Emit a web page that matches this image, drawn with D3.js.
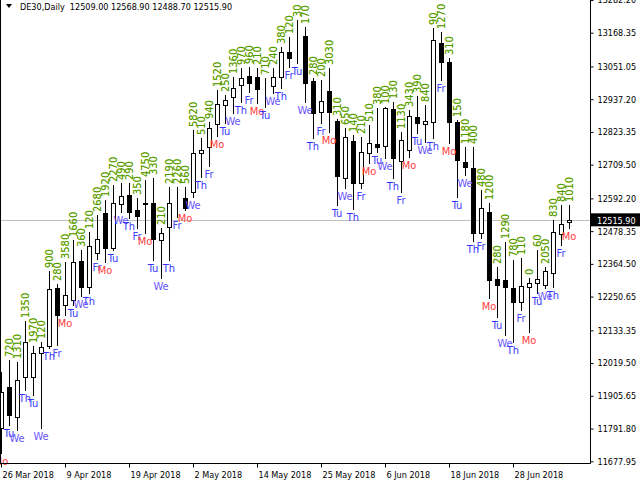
<!DOCTYPE html>
<html><head><meta charset="utf-8">
<script src="https://cdn.jsdelivr.net/npm/d3@7"></script>
<style>
html,body{margin:0;padding:0;background:#fff;overflow:hidden}
svg{display:block}
text{font-family:"DejaVu Sans Condensed","DejaVu Sans",sans-serif}
</style></head><body>
<svg id="c" width="640" height="480"></svg>
<script>
// ---- data ----
const symbol = "DE30,Daily";
const openV  = [11793.7,11936.3,11832.0,11971.1,11971.1,12054.5,12078.9,12280.6,12221.5,12238.8,12374.5,12284.1,12402.3,12541.4,12419.7,12572.7,12604.0,12551.8,12576.2,12576.2,12447.5,12492.7,12584.9,12593.6,12614.4,12750.0,12770.9,12850.9,12917.0,12944.8,12986.5,13017.8,13014.3,12979.6,12983.0,13014.3,13101.3,13158.7,13156.9,13000.4,12892.6,12965.6,12861.3,12663.1,12791.8,12645.7,12750.0,12781.3,12774.4,12903.1,12722.2,12760.5,12875.2,12850.9,12857.8,13132.6,13066.5,12857.8,12718.7,12697.9,12471.8,12544.9,12311.9,12308.4,12280.6,12231.9,12284.1,12298.0,12291.0,12332.7,12468.4,12509.0];
const highV  = [11988.5,12030.2,12023.2,12165.8,12078.9,12092.8,12339.7,12294.5,12371.0,12447.5,12412.7,12475.3,12534.4,12586.6,12638.8,12645.7,12645.7,12593.6,12656.1,12663.1,12489.2,12631.8,12631.8,12631.8,12830.0,12802.2,12857.8,12969.1,12951.7,13014.3,13045.6,13049.1,13045.6,13010.9,13045.6,13118.7,13153.4,13212.6,13188.2,13010.9,13003.9,13045.6,12868.3,12837.0,12812.6,12805.7,12847.4,12906.5,12910.0,12927.4,12823.1,12899.6,12948.3,12917.0,13184.7,13170.8,13080.4,12864.8,12770.9,12770.9,12621.4,12576.2,12353.6,12440.5,12377.9,12384.9,12315.4,12412.7,12353.6,12517.0,12569.2,12568.9];
const lowV   = [11706.8,11804.2,11786.8,11925.9,11908.5,11793.7,12071.9,12082.4,12186.7,12221.5,12252.8,12263.2,12381.4,12371.0,12412.7,12544.9,12524.0,12489.2,12471.8,12377.9,12315.4,12377.9,12527.5,12551.8,12597.0,12666.6,12704.8,12809.2,12854.4,12889.1,12927.4,12962.2,12923.9,12910.0,12958.7,12976.1,13049.1,13063.0,12927.4,12802.2,12854.4,12823.1,12569.2,12628.3,12555.3,12628.3,12715.3,12753.5,12732.7,12663.1,12614.4,12736.1,12819.6,12788.3,12802.2,13003.9,12784.8,12597.0,12673.5,12444.0,12454.5,12245.8,12179.7,12117.1,12092.8,12204.1,12127.6,12263.2,12280.6,12284.1,12430.1,12488.7];
const closeV = [11918.9,11838.9,11960.6,12092.8,12054.5,12075.4,12277.1,12186.7,12256.2,12371.0,12284.1,12426.6,12451.0,12419.7,12576.2,12600.5,12544.9,12531.0,12574.4,12451.0,12471.8,12576.2,12586.6,12558.8,12750.0,12760.5,12837.0,12920.4,12934.4,12976.1,13010.9,12993.5,12972.6,12977.8,13014.3,13101.3,13080.4,13160.4,12993.5,12889.1,12930.9,12892.6,12670.1,12805.7,12645.7,12753.5,12784.8,12770.9,12906.5,12732.7,12795.2,12878.7,12854.4,12861.3,13143.0,13066.5,12857.8,12725.7,12701.4,12471.8,12558.8,12308.4,12291.0,12284.1,12231.9,12287.5,12298.0,12311.9,12339.7,12475.3,12503.1,12515.9];
const dayNames = ["Mo","Tu","We","Th","Tu","We","Th","Fr","Mo","Tu","We","Th","Fr","Mo","Tu","We","Th","Fr","Mo","Tu","We","Th","Fr","Mo","We","Th","Fr","Mo","Tu","We","Th","Fr","Mo","Tu","We","Th","Fr","Tu","We","Th","Fr","Mo","Tu","We","Th","Fr","Mo","Tu","We","Th","Fr","Mo","Tu","We","Th","Fr","Mo","Tu","We","Th","Fr","Mo","Tu","We","Th","Fr","Mo","Tu","We","Th","Fr","Mo"];
const barNumbers = ["","720","1310","1350","1970","120","900","280","3580","1660","360","120","2680","1920","2270","490","290","350","4750","330","210","2190","2260","560","5820","510","940","1520","250","1360","970","960","210","710","240","380","120","30","170","280","200","3030","310","650","140","210","510","380","100","130","1130","3430","390","840","90","1270","310","150","1180","400","480","1200","280","1290","780","110","0","60","2050","830","840","1010"];
const dateTickIdx = [0,8,16,24,32,40,48,56,64];
const dateLabels = ["26 Mar 2018","9 Apr 2018","19 Apr 2018","2 May 2018","14 May 2018","25 May 2018","6 Jun 2018","18 Jun 2018","28 Jun 2018"];
const priceTicks = [13282.20,13168.35,13051.05,12937.20,12823.35,12709.50,12592.20,12478.35,12364.50,12250.65,12133.35,12019.50,11905.65,11791.80,11677.95];
const lastPrice = 12515.90;

const bars = openV.map((o,i)=>({i,o,h:highV[i],l:lowV[i],c:closeV[i],day:dayNames[i],num:barNumbers[i]}));

const svg = d3.select("#c");
const W = 640, H = 480, plotR = 590, plotB = 463;
const x = d3.scaleLinear().domain([0,71]).range([1,569]);
const y = d3.scaleLinear().domain([11677.95,13168.35]).range([461.3,32.7]);

// current price line
svg.append("line").attr("x1",0).attr("x2",plotR).attr("y1",Math.round(y(lastPrice))+0.5).attr("y2",Math.round(y(lastPrice))+0.5)
  .attr("stroke","#c0c0c0").attr("stroke-width",1);

// candles
const g = svg.append("g").attr("shape-rendering","crispEdges");
g.selectAll("line.wick").data(bars).join("line").attr("class","wick")
  .attr("x1",d=>Math.round(x(d.i))+0.5).attr("x2",d=>Math.round(x(d.i))+0.5)
  .attr("y1",d=>Math.round(y(d.h))).attr("y2",d=>Math.round(y(d.l))+1)
  .attr("stroke","#000");
g.selectAll("rect.body").data(bars).join("rect").attr("class","body")
  .attr("x",d=>Math.round(x(d.i))-2+0.5)
  .attr("y",d=>Math.round(y(Math.max(d.o,d.c)))+0.5)
  .attr("width",4)
  .attr("height",d=>Math.max(0,Math.round(y(Math.min(d.o,d.c)))-Math.round(y(Math.max(d.o,d.c)))))
  .attr("fill",d=>d.c>=d.o?"#fff":"#000").attr("stroke","#000");

// day labels below lows
const dayColor = {Mo:"#ff3c3c",Tu:"#3535ff",We:"#6a55ff",Th:"#3535ff",Fr:"#4a45ff"};
svg.selectAll("text.day").data(bars).join("text").attr("class","day")
  .attr("x",d=>x(d.i)).attr("y",d=>y(d.l)+12)
  .attr("text-anchor","middle").attr("font-size","11px")
  .attr("fill",d=>dayColor[d.day]).text(d=>d.day);

// numbers above highs (vertical)
const numG = svg.append("g").attr("font-family","'DejaVu Sans Mono',monospace").attr("font-size","11px");
numG.selectAll("text.n1").data(bars).join("text").attr("class","n1")
  .attr("transform",d=>`translate(${x(d.i)+4},${y(d.h)-3}) rotate(-90)`)
  .attr("fill","#b0b000").text(d=>d.num);
numG.selectAll("text.n2").data(bars).join("text").attr("class","n2")
  .attr("transform",d=>`translate(${x(d.i)+4},${y(d.h)-3}) rotate(-90)`)
  .attr("fill","#009000").attr("fill-opacity",0.6).text(d=>d.num);

// axes
const ya = svg.append("g").attr("transform",`translate(${plotR+0.5},0)`)
  .call(d3.axisRight(y).tickValues(priceTicks).tickFormat(d3.format(".2f")).tickSize(3).tickPadding(4));
ya.select(".domain").attr("d",`M0,0V${plotB+0.5}`);
ya.selectAll("text").attr("font-size","9px").attr("font-family","'DejaVu Sans Condensed',sans-serif").attr("fill","#000");

const xa = svg.append("g").attr("transform",`translate(0,${plotB+0.5})`)
  .call(d3.axisBottom(x).tickValues(dateTickIdx).tickFormat((d,i)=>dateLabels[i]).tickSize(4).tickPadding(4));
xa.select(".domain").attr("d",`M0,0H${plotR+0.5}`);
xa.selectAll("text").attr("text-anchor","start").attr("dx","1").attr("font-size","9px")
  .attr("font-family","'DejaVu Sans Condensed',sans-serif").attr("fill","#000");

// left frame
svg.append("line").attr("x1",0.5).attr("x2",0.5).attr("y1",0).attr("y2",plotB).attr("stroke","#000");

// current price box
const ly = y(lastPrice);
svg.append("rect").attr("x",plotR+1).attr("y",ly-7).attr("width",W-plotR-1).attr("height",13).attr("fill","#000");
svg.append("text").attr("x",plotR+7).attr("y",ly+3.5).attr("font-size","9px").attr("fill","#fff").text(d3.format(".2f")(lastPrice));

// header
svg.append("path").attr("d","M6,4 L12,4 L9,8 Z").attr("fill","#000");
svg.append("text").attr("x",20).attr("y",10).attr("font-size","9px").attr("fill","#000")
  .text(`${symbol}  ${d3.format(".2f")(openV[71])} ${d3.format(".2f")(highV[71])} ${d3.format(".2f")(lowV[71])} ${d3.format(".2f")(closeV[71])}`)
  .attr("xml:space","preserve").style("white-space","pre");
</script>
</body></html>
